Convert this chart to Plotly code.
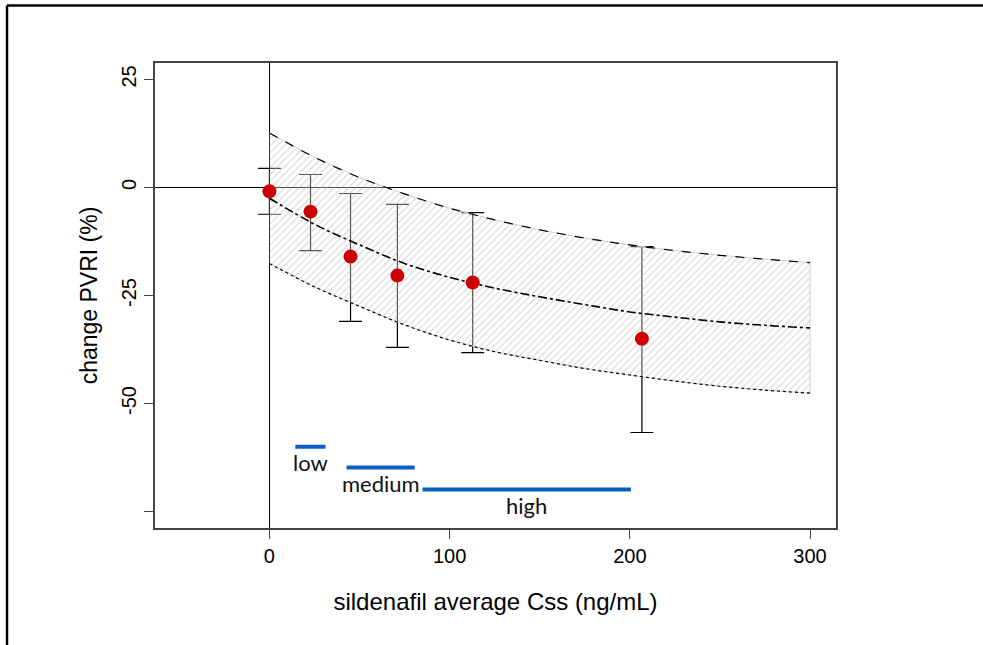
import plotly.graph_objects as go

# Observed data (mean change in PVRI by concentration group)
css_obs = [0, 22.8, 45, 71, 112.8, 206.7]
pvri_obs = [-0.9, -5.6, -16.0, -20.4, -22.0, -35.0]
pvri_hi = [4.4, 3.0, -1.4, -3.9, -5.8, -13.7]
pvri_lo = [-6.2, -14.6, -31.0, -37.0, -38.2, -56.7]

# Model prediction: median and 90% band
css_grid = [0, 25, 50, 75, 100, 125, 150, 175, 200, 225, 250, 275, 300]
pred_med = [-2.5, -8.5, -13.3, -17.6, -20.8, -23.3, -25.3, -27.1, -28.8, -30.0, -31.1, -31.9, -32.5]
pred_upp = [12.6, 7.0, 2.3, -1.5, -4.8, -7.5, -9.8, -11.7, -13.3, -14.6, -15.7, -16.6, -17.4]
pred_low = [-17.6, -23.0, -27.5, -31.8, -35.3, -38.0, -40.0, -41.9, -43.4, -44.8, -46.0, -46.9, -47.6]

# Dose-group concentration ranges
range_names = ["low", "medium", "high"]
range_from = [14.4, 42.8, 85.0]
range_to = [31.1, 80.6, 200.6]
range_y = [-60.0, -64.8, -69.9]

x_ticks = [0, 100, 200, 300]
y_ticks = [25, 0, -25, -50, -75]
y_ticklabels = ["25", "0", "-25", "-50", ""]

FONT = "Liberation Sans, Arial, sans-serif"

fig = go.Figure()

# error bars (drawn beneath the band)
err_plus = [h - m for h, m in zip(pvri_hi, pvri_obs)]
err_minus = [m - l for m, l in zip(pvri_obs, pvri_lo)]
fig.add_trace(go.Scatter(
    x=css_obs, y=pvri_obs, mode="markers",
    marker=dict(size=1, color="rgba(0,0,0,0)"),
    error_y=dict(type="data", symmetric=False, array=err_plus, arrayminus=err_minus,
                 color="black", thickness=1.2, width=11.5),
    hoverinfo="skip", showlegend=False))

# hatched prediction band
fig.add_trace(go.Scatter(
    x=css_grid + css_grid[::-1], y=pred_upp + pred_low[::-1],
    mode="lines", fill="toself",
    line=dict(color="#d0d0d0", width=1),
    fillcolor="rgba(255,255,255,0)",
    fillpattern=dict(shape="/", fgcolor="#b0b0b0", bgcolor="rgba(255,255,255,0.3)",
                     size=5, solidity=0.22, fillmode="overlay"),
    hoverinfo="skip", showlegend=False))

fig.add_trace(go.Scatter(x=css_grid, y=pred_upp, mode="lines", line_shape="spline",
                         line=dict(color="black", width=1.2, dash="dash"), showlegend=False))
fig.add_trace(go.Scatter(x=css_grid, y=pred_low, mode="lines", line_shape="spline",
                         line=dict(color="black", width=1.2, dash="dot"), showlegend=False))
fig.add_trace(go.Scatter(x=css_grid, y=pred_med, mode="lines", line_shape="spline",
                         line=dict(color="black", width=1.6, dash="dashdot"), showlegend=False))

# observed means
fig.add_trace(go.Scatter(x=css_obs, y=pvri_obs, mode="markers",
                         marker=dict(size=14, color="#cc0000"), showlegend=False))

# concentration ranges
for name, a, b, yv in zip(range_names, range_from, range_to, range_y):
    fig.add_trace(go.Scatter(x=[a, b], y=[yv, yv], mode="lines",
                             line=dict(color="#0a5fc4", width=4), showlegend=False))
    fig.add_annotation(x=(a + b) / 2, y=yv, text=name, showarrow=False,
                       yshift=-16, yanchor="middle",
                       font=dict(family="Lato, Liberation Sans, sans-serif", size=22, color="#111"))

# outer frame lines (top and left)
fig.add_shape(type="line", xref="paper", yref="paper", x0=-0.2173, x1=1.3, y0=1.1235, y1=1.1235,
              line=dict(color="black", width=2.5))
fig.add_shape(type="line", xref="paper", yref="paper", x0=-0.2173, x1=-0.2173, y0=-0.3, y1=1.1235,
              line=dict(color="black", width=2.5))

fig.update_layout(
    width=983, height=645,
    margin=dict(l=155, r=147, t=63, b=117),
    paper_bgcolor="white", plot_bgcolor="white",
    font=dict(family=FONT, size=19, color="black"),
    showlegend=False,
    xaxis=dict(range=[-63.5, 314.4], tickvals=x_ticks, ticks="outside", ticklen=9,
               tickcolor="#444", showline=True, mirror=True, linecolor="#444", linewidth=1.5,
               showgrid=False, zeroline=True, zerolinecolor="black", zerolinewidth=1,
               title=dict(text="sildenafil average Css (ng/mL)", standoff=27,
                          font=dict(family=FONT, size=24, color="black")),
               tickfont=dict(family=FONT, size=20, color="black")),
    yaxis=dict(range=[-78.8, 28.8], tickvals=y_ticks, ticktext=y_ticklabels, tickangle=-90,
               ticks="outside", ticklen=9, tickcolor="#444", showline=True, mirror=True,
               linecolor="#444", linewidth=1.5, showgrid=False, zeroline=True,
               zerolinecolor="black", zerolinewidth=1,
               title=dict(text="change PVRI (%)", standoff=14,
                          font=dict(family=FONT, size=23, color="black")),
               tickfont=dict(family=FONT, size=20, color="black")),
)

fig.write_html("out.html")
